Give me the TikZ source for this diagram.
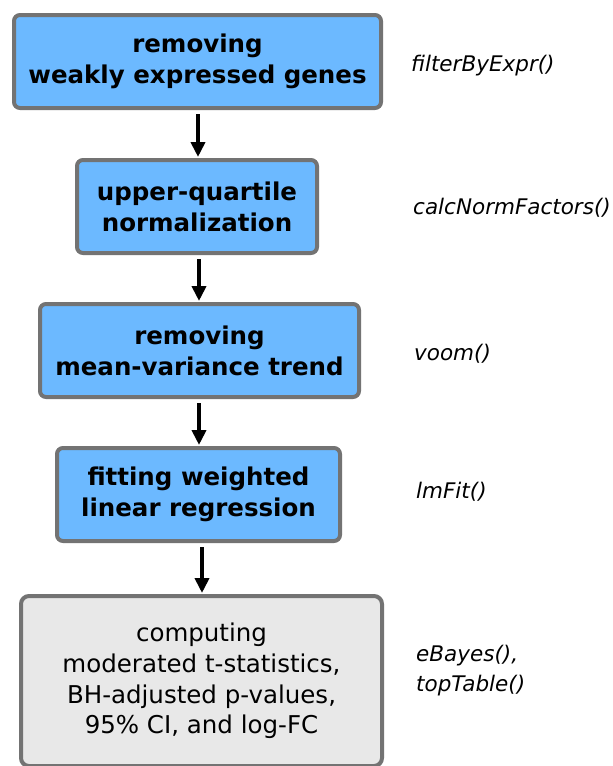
\documentclass[tikz,border=0pt]{standalone}
\usepackage{fontspec}
\setmainfont{DejaVu Sans}
\usetikzlibrary{arrows.meta}
\definecolor{boxblue}{RGB}{108,185,255}
\definecolor{boxgrey}{RGB}{232,232,232}
\definecolor{edgegrey}{RGB}{115,115,115}
\begin{document}
\begin{tikzpicture}[x=1pt,y=-1pt,
  stepbox/.style={draw=edgegrey, line width=4pt, rounded corners=6pt, fill=boxblue,
    align=center, font=\fontsize{24.5}{31}\selectfont\bfseries, inner sep=0pt},
  finalbox/.style={draw=edgegrey, line width=4pt, rounded corners=8pt, fill=boxgrey,
    align=center, font=\fontsize{24.5}{30.7}\selectfont, inner sep=0pt},
  fn/.style={anchor=west, font=\fontsize{21.5}{30}\selectfont\itshape, align=left, inner sep=0pt},
  flow/.style={line width=4pt, -{Triangle[length=15pt,width=14pt]}, shorten >=1pt}]
\useasboundingbox (0,0) rectangle (613,766);
\begin{scope}
\clip (0,0) rectangle (613,766);
\node[stepbox, minimum width=367pt, minimum height=93pt] (b1) at (197.5,61.5) {removing\\weakly expressed genes};
\node[stepbox, minimum width=240pt, minimum height=93pt] (b2) at (197,206.5) {upper-quartile\\normalization};
\node[stepbox, minimum width=319pt, minimum height=93pt] (b3) at (199.5,350.5) {removing\\mean-variance trend};
\node[stepbox, minimum width=283pt, minimum height=93pt] (b4) at (198.5,494.5) {fitting weighted\\linear regression};
\node[finalbox, minimum width=361pt, minimum height=170pt] (b5) at (201.5,681) {computing\\moderated t-statistics,\\BH-adjusted p-values,\\95\% CI, and log-FC};
\end{scope}
\draw[flow] ([xshift=0.5pt]b1.south) ++(0,4) coordinate (s1) -- (s1 |- b2.north);
\draw[flow] ([xshift=2pt]b2.south) ++(0,4) coordinate (s2) -- (s2 |- b3.north);
\draw[flow] ([xshift=-0.5pt]b3.south) ++(0,4) coordinate (s3) -- (s3 |- b4.north);
\draw[flow] ([xshift=3.5pt]b4.south) ++(0,4) coordinate (s4) -- (s4 |- b5.north);
\node[fn] (f1) at (411,66) {filterByExpr()};
\node[fn] (f2) at (413,208) {calcNormFactors()};
\node[fn] (f3) at (414,354) {voom()};
\node[fn] (f4) at (416,492) {lmFit()};
\node[fn] (f5) at (416,671) {eBayes(),\\topTable()};
\end{tikzpicture}
\end{document}
